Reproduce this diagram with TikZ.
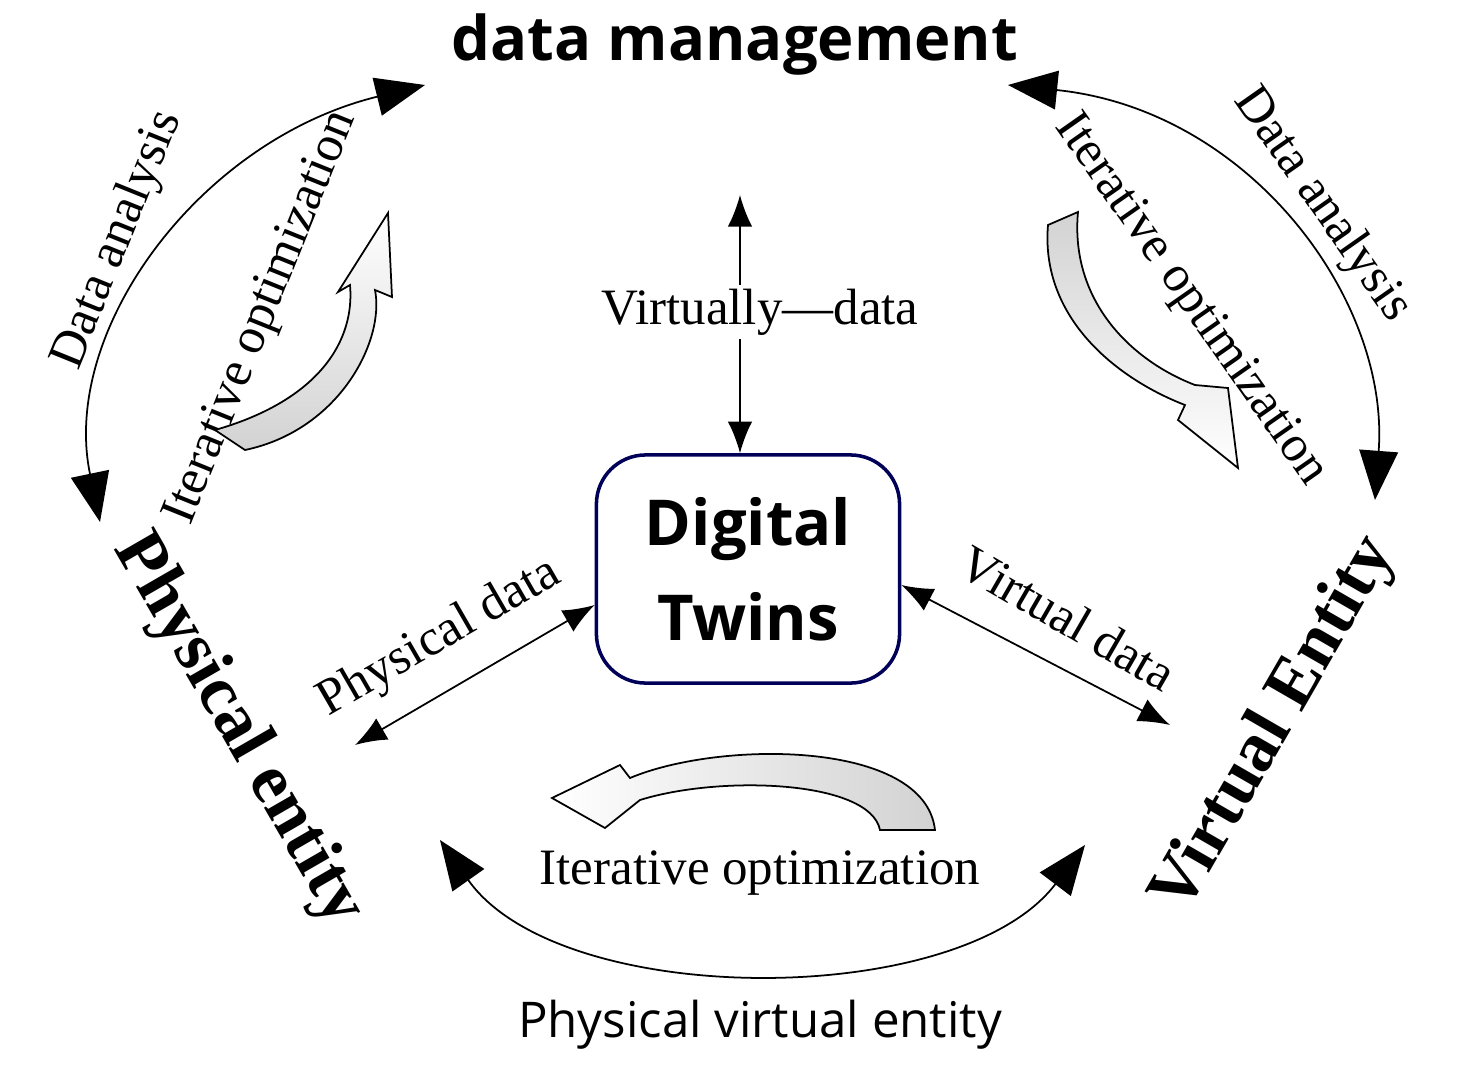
\documentclass[tikz,border=0pt]{standalone}
\usepackage{fontspec}
\setmainfont{Liberation Serif}
\newfontfamily\sansf{Open Sans}
\usetikzlibrary{arrows.meta}
\tikzset{
  dbl/.style    = {draw, {Latex[length=9pt,width=7pt]}-{Latex[length=9pt,width=7pt]}, line width=0.5pt},
  bigarc/.style = {draw, {Triangle[length=14pt,width=11pt]}-{Triangle[length=14pt,width=11pt]}, line width=0.5pt},
  lbl/.style    = {font=\fontsize{14.5}{17}\selectfont},
  entity/.style = {font=\fontsize{20}{22}\selectfont\bfseries},
  hollow/.style = {draw, line width=0.5pt}
}
\begin{document}
\begin{tikzpicture}[x=0.01cm, y=-0.01cm]
\useasboundingbox (0,0) rectangle (1459,1078);

% titles
\node[font=\sansf\fontsize{17.5}{20}\selectfont\bfseries] (dm) at (735,45) {data management};
\node[entity, rotate=-60] (pe) at (238,730) {Physical entity};
\node[entity, rotate=60] (ve) at (1275,725) {Virtual Entity};
\node[font=\sansf\fontsize{14}{17}\selectfont] (pve) at (760,1025) {Physical virtual entity};

% centre box
\node[draw=blue!35!black, line width=1pt, rounded corners=14pt, minimum width=3.03cm,
      minimum height=2.28cm, align=center, font=\sansf\fontsize{18}{27}\selectfont\bfseries] (dt) at (748,569) {Digital\\Twins};

% connectors
\coordinate (top) at (740,195);
\coordinate (pl) at (355,745);
\coordinate (vr) at (1170,725);
\draw[dbl] (top) -- (dt.north -| top);
\node[lbl, fill=white, inner sep=1pt] (vd) at (760,312) {Virtually---data};
\draw[dbl] (pl) -- (dt.west |- 0,605);
\draw[dbl] (dt.east |- 0,585) -- (vr);
\node[lbl, rotate=30] (pd) at (440,638) {Physical data};
\node[lbl, rotate=-30] (vdt) at (1068,618) {Virtual data};

% big arcs
\coordinate (la) at (425,85);  \coordinate (lb) at (100,522);
\coordinate (ra) at (1008,85); \coordinate (rb) at (1375,500);
\coordinate (ba) at (440,840); \coordinate (bb) at (1085,845);
\draw[bigarc] (la) .. controls (200,140) and (60,330) .. (lb);
\draw[bigarc] (ra) .. controls (1250,110) and (1390,300) .. (rb);
\draw[bigarc] (ba) .. controls (560,1010) and (960,1010) .. (bb);

\node[lbl, rotate=68] (dal) at (118,240) {Data analysis};
\node[lbl, rotate=68] (iol) at (262,318) {Iterative optimization};
\node[lbl, rotate=-55] (dar) at (1322,205) {Data analysis};
\node[lbl, rotate=-55] (ior) at (1190,300) {Iterative optimization};
\node[lbl] (iob) at (760,873) {Iterative optimization};

% hollow curved arrows
\path[hollow, top color=white, bottom color=gray!35]
  (215,430) .. controls (320,400) and (355,340) .. (350,285) -- (338,292) -- (388,213)
  -- (392,297) -- (375,290) .. controls (385,340) and (340,430) .. (245,450) -- cycle;
\path[hollow, top color=gray!35, bottom color=white]
  (1048,225) .. controls (1040,320) and (1120,380) .. (1185,405) -- (1178,420) -- (1238,468)
  -- (1228,388) -- (1195,385) .. controls (1130,360) and (1070,300) .. (1078,212) -- cycle;
\path[hollow, left color=white, right color=gray!35]
  (880,830) .. controls (870,780) and (720,775) .. (640,800) -- (605,828) -- (552,798)
  -- (620,765) -- (630,778) .. controls (720,740) and (925,740) .. (935,830) -- cycle;
\end{tikzpicture}
\end{document}
